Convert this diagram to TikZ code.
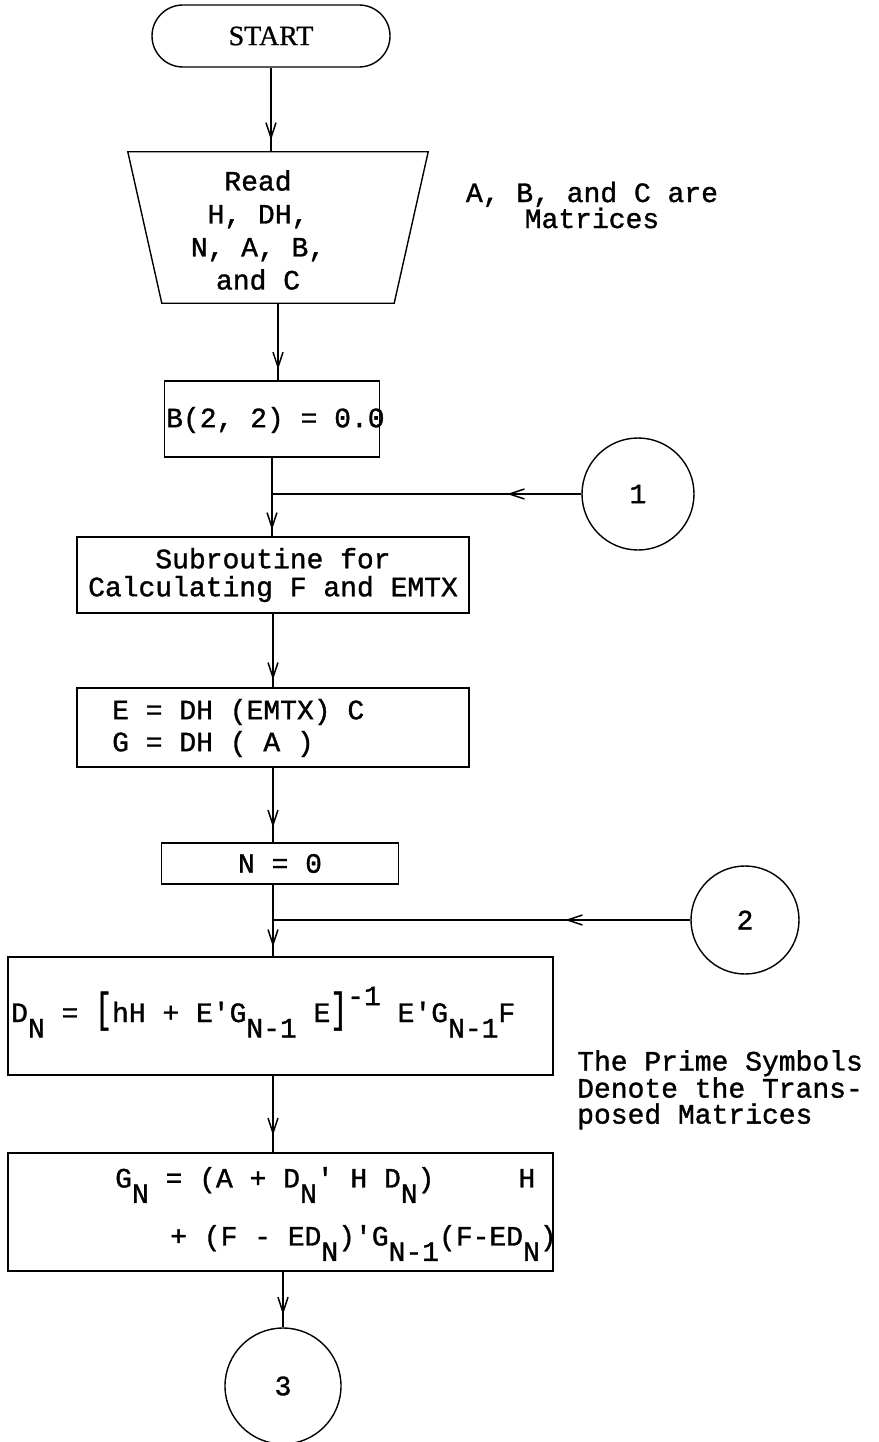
\documentclass[tikz,border=0pt]{standalone}
\usepackage{fontspec}
\setmonofont[FakeBold=1.2]{Liberation Mono}
\newfontfamily\startfont[FakeBold=0.8]{Liberation Serif}
\usetikzlibrary{arrows.meta,decorations.markings}

\tikzstyle{box} = [draw, line width=1.4pt, rectangle, inner sep=0pt]
\tikzstyle{txt} = [font=\ttfamily\fontsize{28}{32}\selectfont, inner sep=0pt]
\tikzstyle{note} = [font=\ttfamily\fontsize{28}{26}\selectfont, inner sep=0pt]
\tikzstyle{conn} = [line width=1.4pt]
\tikzstyle{connector} = [draw, circle, line width=1.4pt, inner sep=0pt, font=\ttfamily\fontsize{28}{32}\selectfont]
\tikzset{tip at/.style={postaction={decorate}, decoration={markings,
  mark=at position #1 with {\arrow{Straight Barb[length=15pt,width=10pt,line width=1.5pt]}}}}}

\newcommand\subtw[1]{\raisebox{-0.55em}{#1}}
\newcommand\suptw[1]{\raisebox{0.6em}{#1}}

\begin{document}
\begin{tikzpicture}[x=1pt, y=-1pt]
\useasboundingbox (0,0) rectangle (878,1442);
%start and input
\node[box, rounded corners=31pt, minimum width=238pt, minimum height=62pt,
      font=\startfont\fontsize{28}{30}\selectfont] (start) at (271,36) {START};
\node[inner sep=0pt, minimum width=300pt, minimum height=151pt] (read) at (278,227.5) {};
\draw[line width=1.4pt] (read.north west) -- (read.north east) -- ([xshift=-34pt]read.south east)
  -- ([xshift=34pt]read.south west) -- cycle;
\node[txt, align=center, font=\ttfamily\fontsize{28}{33}\selectfont] (readtxt) at (258,230) {Read\\H, DH,\\N, A, B,\\and C};
\node[note, align=center] (matnote) at (592,205) {A, B, and C are\\Matrices};
%initial values
\node[box, minimum width=215pt, minimum height=76pt] (bzero) at (272,419) {};
\node[txt, anchor=west] (bzerotxt) at (166,420) {B(2, 2) = 0.0};
\node[connector, minimum size=112pt] (circ1) at (638,494) {1};
\node[box, txt, align=center, minimum width=392pt, minimum height=76pt,
      font=\ttfamily\fontsize{28}{28}\selectfont] (sub) at (273,575) {Subroutine for\\Calculating F and EMTX};
\node[box, minimum width=392pt, minimum height=79pt] (ebox) at (273,727.5) {};
\node[txt, anchor=west, align=left, font=\ttfamily\fontsize{28}{32}\selectfont] (etxt) at (112,728) {E = DH (EMTX) C\\G = DH ( A )};
\node[box, txt, minimum width=237pt, minimum height=41pt] (nzero) at (280,863.5) {N = 0};
\node[connector, minimum size=108pt] (circ2) at (745,920) {2};
%recursion
\node[box, minimum width=545pt, minimum height=118pt] (dbox) at (280.5,1016) {};
\node[txt, anchor=base west] (dtxt) at (11,1022)
  {D\subtw{N} = \scalebox{1}[1.5]{[}hH + E'G\subtw{N-1} E\scalebox{1}[1.5]{]}\suptw{-1} E'G\subtw{N-1}F};
\node[note, anchor=north west, align=left] (primenote) at (577,1050) {The Prime Symbols\\Denote the Trans-\\posed Matrices};
\node[box, minimum width=545pt, minimum height=118pt] (gbox) at (280.5,1212) {};
\node[txt, anchor=west, align=left, font=\ttfamily\fontsize{28}{58}\selectfont] (gtxt) at (115,1214)
  {G\subtw{N} = (A + D\subtw{N}' H D\subtw{N})~~~~~H\\\hspace*{55pt}+ (F - ED\subtw{N})'G\subtw{N-1}(F-ED\subtw{N})};
\node[connector, minimum size=116pt] (circ3) at (283,1386) {3};
%connectors
\coordinate (join1) at (bzero.south |- circ1.west);
\coordinate (join2) at (ebox.south |- circ2.west);
\draw[conn, tip at=0.86] (start.south) -- (start.south |- read.north);
\draw[conn, tip at=0.86] (read.south) -- (read.south |- bzero.north);
\draw[conn] (bzero.south) -- (join1);
\draw[conn, tip at=0.85] (join1) -- (join1 |- sub.north);
\draw[conn, tip at=0.24] (circ1.west) -- (join1);
\draw[conn, tip at=0.9] (sub.south) -- (sub.south |- ebox.north);
\draw[conn, tip at=0.8] (ebox.south) -- (ebox.south |- nzero.north);
\draw[conn] (ebox.south |- nzero.south) -- (join2);
\draw[conn, tip at=0.74] (join2) -- (join2 |- dbox.north);
\draw[conn, tip at=0.3] (circ2.west) -- (join2);
\draw[conn, tip at=0.78] (join2 |- dbox.south) -- (join2 |- gbox.north);
\draw[conn, tip at=0.77] (circ3.north |- gbox.south) -- (circ3.north);
\end{tikzpicture}
\end{document}
